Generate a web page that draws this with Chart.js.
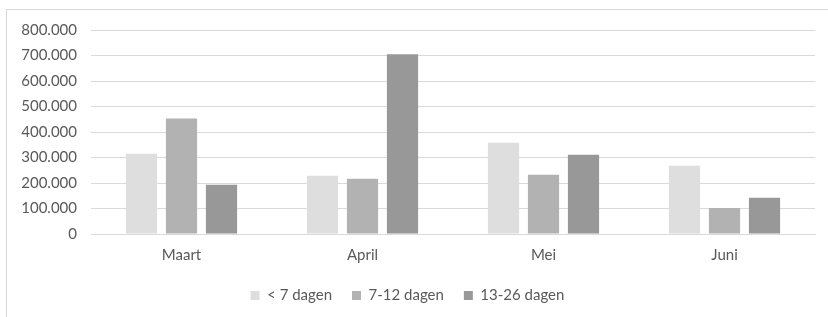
<!DOCTYPE html>
<html>
<head>
<meta charset="utf-8">
<script src="https://cdn.jsdelivr.net/npm/chart.js@4"></script>
<style>
  html, body { margin: 0; padding: 0; background: #fff; }
  #wrap { position: relative; width: 828px; height: 317px; }
  #frame { position: absolute; left: 6px; top: 9px; right: -2px; bottom: -2px;
           border-top: 1px solid #d9d9d9; border-left: 1px solid #d9d9d9; }
  canvas { position: absolute; left: 0; top: 0; }
</style>
</head>
<body>
<div id="wrap">
  <div id="frame"></div>
  <canvas id="chart" width="828" height="317"></canvas>
</div>
<script>
// months on the x axis
const months = ['Maart', 'April', 'Mei', 'Juni'];

// series
const under7 = [315000, 228000, 358000, 268000];
const from7to12 = [453000, 217000, 232000, 102000];
const from13to26 = [193000, 705000, 311000, 142000];

const seriesNames = ['< 7 dagen', '7-12 dagen', '13-26 dagen'];
const seriesColors = ['#dedede', '#b2b2b2', '#989898'];

// y axis ticks
const yMax = 800000;
const yStep = 100000;

// 800.000 style numbers
function fmt(v) {
  return String(v).replace(/\B(?=(\d{3})+(?!\d))/g, '.');
}

const font = { family: 'Lato', size: 15 };

const ctx = document.getElementById('chart').getContext('2d');
new Chart(ctx, {
  type: 'bar',
  data: {
    labels: months,
    datasets: [under7, from7to12, from13to26].map((data, i) => ({
      label: seriesNames[i],
      data: data,
      backgroundColor: seriesColors[i],
      borderWidth: 0,
      categoryPercentage: 0.663,
      barPercentage: 0.78,
    })),
  },
  options: {
    responsive: false,
    animation: false,
    layout: { padding: { left: 0, right: 13, top: 30, bottom: 4 } },
    plugins: {
      tooltip: { enabled: false },
      legend: {
        position: 'bottom',
        labels: {
          color: '#595959',
          font: font,
          boxWidth: 9,
          boxHeight: 9,
          padding: 20,
        },
      },
    },
    scales: {
      x: {
        grid: { display: false },
        border: { display: true, color: '#d9d9d9' },
        ticks: { color: '#595959', font: font, padding: 4 },
      },
      y: {
        min: 0,
        max: yMax,
        afterFit: (scale) => { scale.width = 91; },
        grid: { color: '#d9d9d9', drawTicks: false },
        border: { display: false },
        ticks: {
          stepSize: yStep,
          padding: 14,
          color: '#595959',
          font: font,
          callback: (v) => fmt(v),
        },
      },
    },
  },
});
</script>
</body>
</html>
